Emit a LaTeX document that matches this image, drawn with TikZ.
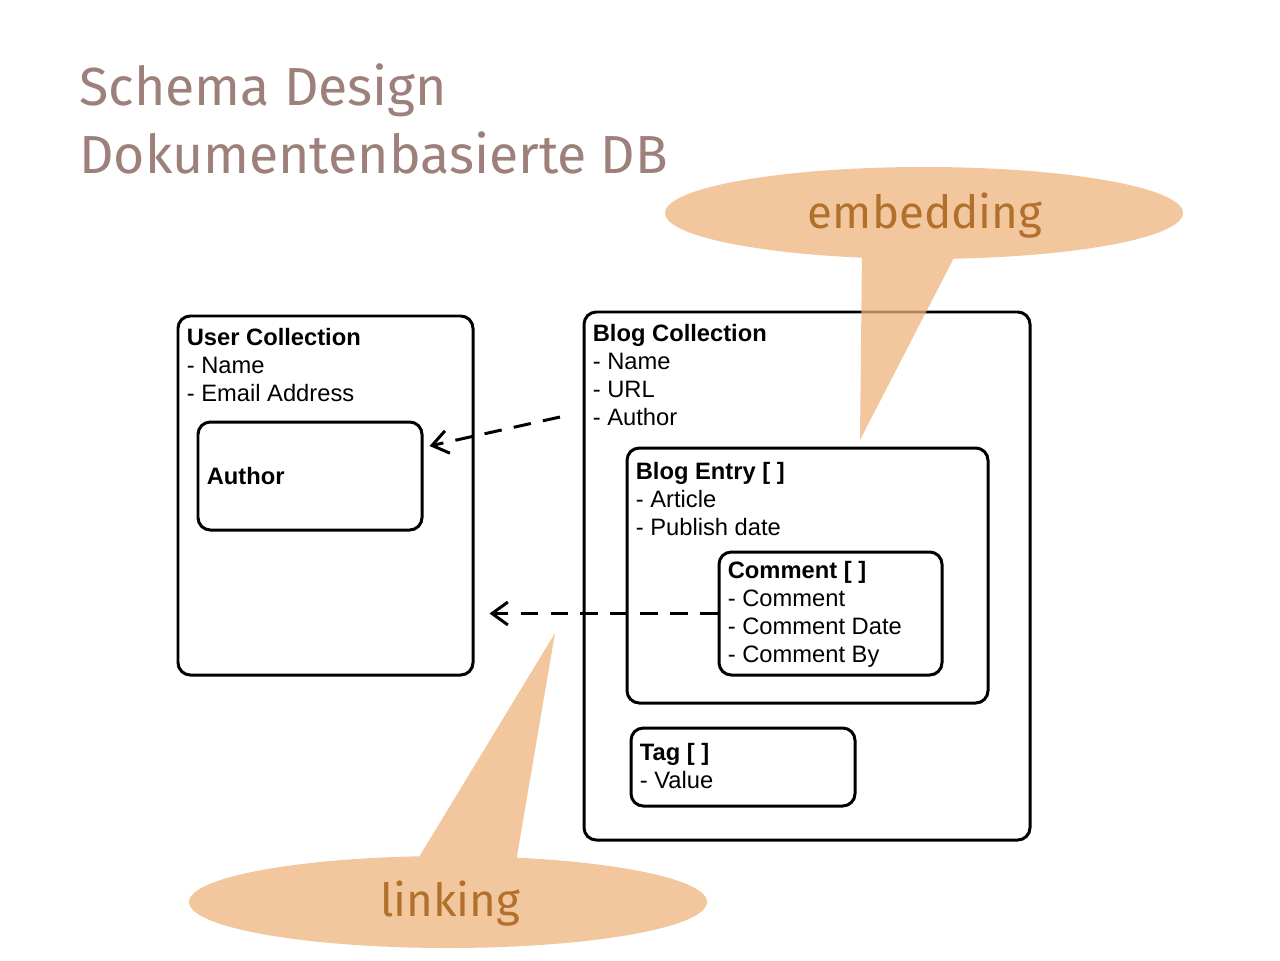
\documentclass[tikz,border=0pt]{standalone}
\usepackage{fontspec}
\setmainfont{Liberation Sans}
\newfontfamily\titlefont{Fira Sans}
\usetikzlibrary{arrows.meta,positioning,calc,fit}
\definecolor{titlegray}{RGB}{158,128,122}
\definecolor{bubbleorange}{RGB}{238,180,125}
\definecolor{labelbrown}{RGB}{178,112,45}

\begin{document}
\begin{tikzpicture}[x=0.02cm,y=-0.02cm,
    box/.style={draw,line width=1.7pt,rounded corners=7pt,inner sep=0pt},
    fieldtext/.style={anchor=north west,align=left,inner sep=0pt,font=\fontsize{13.5}{16}\selectfont},
    link/.style={line width=1.7pt,dash pattern=on 10pt off 7pt,-{Straight Barb[length=9pt,width=13pt]}}]
    \useasboundingbox (0,0) rectangle (1280,960);

    % Title
    \node[anchor=base west,inner sep=0pt,font=\titlefont\fontsize{30.5}{36}\selectfont,text=titlegray] (title1) at (79,105) {Schema Design};
    \node[anchor=base west,inner sep=0pt,font=\titlefont\fontsize{30.5}{36}\selectfont,text=titlegray] (title2) at (79,173) {Dokumentenbasierte DB};

    % User collection
    \node[box,fit={(178,316) (473,675)}] (usercoll) {};
    \node[fieldtext] (usertext) at ($(usercoll.north west)+(10,13)$) {\textbf{User Collection}\\- Name\\- Email Address};
    \node[box,fit={(198,422) (422,530)}] (author) {};
    \node[fieldtext,anchor=west] (authortext) at ($(author.west)+(10,0)$) {\textbf{Author}};

    % Blog collection
    \node[box,fit={(584,312) (1030,840)}] (blogcoll) {};
    \node[fieldtext] (blogtext) at ($(blogcoll.north west)+(10,13)$) {\textbf{Blog Collection}\\- Name\\- URL\\- Author};
    \node[box,fit={(627,448) (988,703)}] (blogentry) {};
    \node[fieldtext] (entrytext) at ($(blogentry.north west)+(10,15)$) {\textbf{Blog Entry [ ]}\\- Article\\- Publish date};
    \node[box,fit={(719,552) (942,675)}] (comment) {};
    \node[fieldtext] (commenttext) at ($(comment.north west)+(10,10)$) {\textbf{Comment [ ]}\\- Comment\\- Comment Date\\- Comment By};
    \node[box,fit={(631,728) (855,806)}] (tag) {};
    \node[fieldtext] (tagtext) at ($(tag.north west)+(10,16)$) {\textbf{Tag [ ]}\\- Value};

    % Links
    \coordinate (authorref) at (560,417);
    \draw[link] (authorref) -- ($(author.east)+(6,-30)$);
    \draw[link] (comment.west) -- ($(comment.west -| usercoll.east)+(15,0)$);

    % Bubbles
    \fill[bubbleorange,opacity=0.75] (924,213) ellipse (259 and 46) (862,250) -- (958,250) -- (860,440) -- cycle;
    \node[anchor=base,inner sep=0pt,font=\titlefont\fontsize{26}{30}\selectfont,text=labelbrown] (embedlabel) at (925,228) {embedding};
    \fill[bubbleorange,opacity=0.75] (448,902) ellipse (259 and 46) (555,633) -- (516,862) -- (416,862) -- cycle;
    \node[anchor=base,inner sep=0pt,font=\titlefont\fontsize{26}{30}\selectfont,text=labelbrown] (linklabel) at (450,916) {linking};
\end{tikzpicture}
\end{document}
